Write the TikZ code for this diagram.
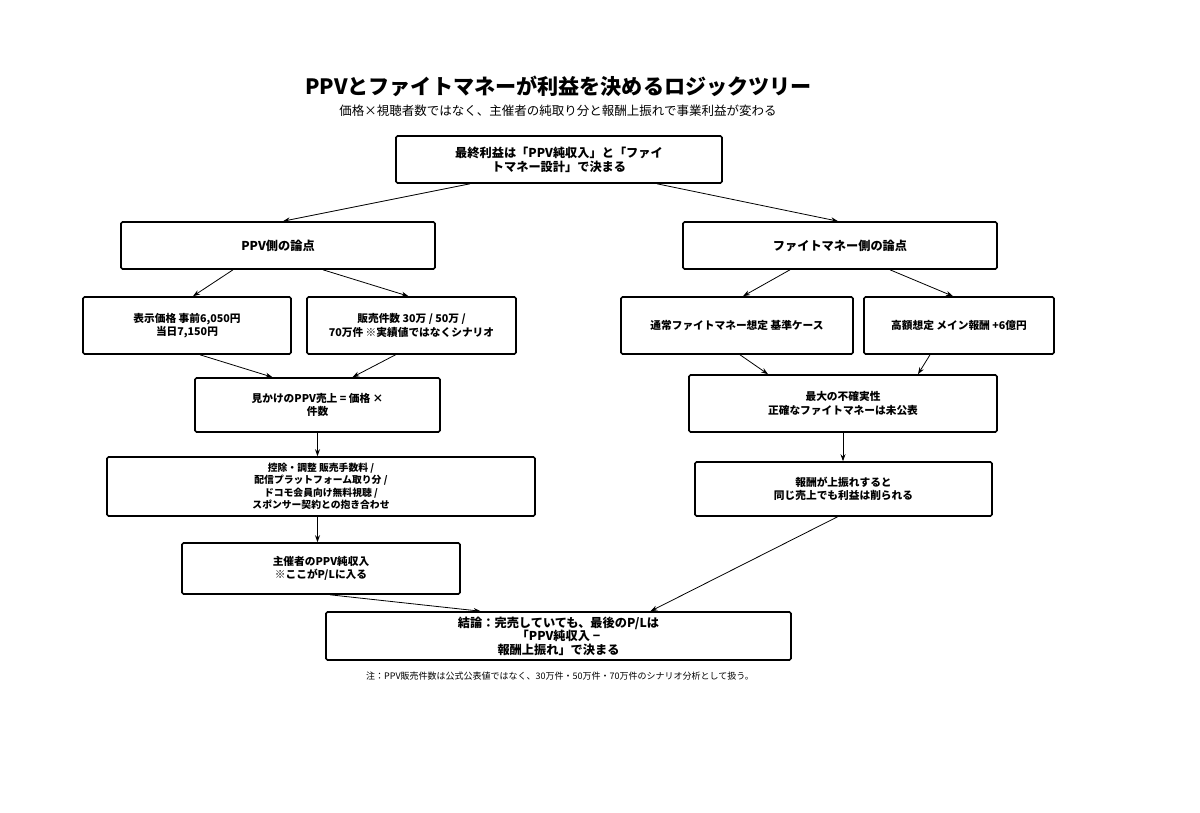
\documentclass[tikz,border=0pt]{standalone}
\usepackage{fontspec}
\setmainfont{Noto Sans CJK JP}
\usetikzlibrary{calc,arrows.meta}
\begin{document}
\begin{tikzpicture}[x=1pt,y=-1pt,
  box/.style={draw=black,line width=1.6pt,rounded corners=1.5pt,fill=white,align=center,
    font=\fontsize{10.7}{13.5}\selectfont\bfseries,inner sep=2pt},
  bigbox/.style={box,font=\fontsize{12.2}{14}\selectfont\bfseries},
  arr/.style={-{Stealth[length=7pt,width=5pt]},line width=0.8pt,black}]
\path[use as bounding box,fill=white] (0,0) rectangle (1200,813);
\node[font=\fontsize{21.1}{25}\selectfont\bfseries] (title) at (558.5,86) {PPVとファイトマネーが利益を決めるロジックツリー};
\node[font=\fontsize{12.5}{15}\selectfont] (sub) at (558,111) {価格×視聴者数ではなく、主催者の純取り分と報酬上振れで事業利益が変わる};

\node[bigbox,minimum width=326pt,minimum height=47pt] (top) at (559,159.5) {最終利益は「PPV純収入」と「ファイ\\トマネー設計」で決まる};
\node[bigbox,minimum width=314pt,minimum height=47pt] (ppv) at (278,245.5) {PPV側の論点};
\node[bigbox,minimum width=314pt,minimum height=47pt] (fm) at (840,245.5) {ファイトマネー側の論点};
\node[box,minimum width=208pt,minimum height=57pt] (price) at (187,325.5) {表示価格 事前6,050円\\当日7,150円};
\node[box,minimum width=209pt,minimum height=57pt] (sales) at (411.5,325.5) {販売件数 30万 / 50万 /\\70万件 ※実績値ではなくシナリオ};
\node[box,minimum width=232pt,minimum height=57pt] (normal) at (737,325.5) {通常ファイトマネー想定 基準ケース};
\node[box,minimum width=190pt,minimum height=57pt] (high) at (959,325.5) {高額想定 メイン報酬 +6億円};
\node[box,minimum width=245pt,minimum height=54pt] (app) at (317.5,405) {見かけのPPV売上 = 価格 ×\\件数};
\node[box,minimum width=308pt,minimum height=57pt] (unc) at (843,403.5) {最大の不確実性\\正確なファイトマネーは未公表};
\node[box,minimum width=428pt,minimum height=59pt,font=\fontsize{9.8}{12.5}\selectfont\bfseries] (ded) at (321,486.5) {控除・調整 販売手数料 /\\配信プラットフォーム取り分 /\\ドコモ会員向け無料視聴 /\\スポンサー契約との抱き合わせ};
\node[box,minimum width=297pt,minimum height=54pt] (up) at (843.5,489) {報酬が上振れすると\\同じ売上でも利益は削られる};
\node[box,minimum width=278pt,minimum height=51pt] (net) at (321,568.5) {主催者のPPV純収入\\※ここがP/Lに入る};
\node[bigbox,minimum width=465pt,minimum height=48pt,font=\fontsize{12.2}{13.6}\selectfont\bfseries] (con) at (558.5,636) {結論：完売していても、最後のP/Lは\\「PPV純収入 −\\報酬上振れ」で決まる};
\node[font=\fontsize{9}{11}\selectfont] (note) at (560,676) {注：PPV販売件数は公式公表値ではなく、30万件・50万件・70万件のシナリオ分析として扱う。};

\draw[arr] ($(top.south)+(-89,0)$) -- ($(ppv.north)+(5,0)$);
\draw[arr] ($(top.south)+(98,0)$) -- ($(fm.north)+(-2,0)$);
\draw[arr] ($(ppv.south)+(-45,0)$) -- ($(price.north)+(6,0)$);
\draw[arr] ($(ppv.south)+(45,0)$) -- ($(sales.north)+(-3,0)$);
\draw[arr] ($(fm.south)+(-50,0)$) -- ($(normal.north)+(6,0)$);
\draw[arr] ($(fm.south)+(50,0)$) -- ($(high.north)+(-6,0)$);
\draw[arr] ($(price.south)+(13,0)$) -- ($(app.north)+(-45,0)$);
\draw[arr] ($(sales.south)+(-16,0)$) -- ($(app.north)+(35,0)$);
\draw[arr] ($(normal.south)+(3,0)$) -- ($(unc.north)+(-75,0)$);
\draw[arr] ($(high.south)+(-29,0)$) -- ($(unc.north)+(75,0)$);
\draw[arr] (app.south) -- (app.south |- ded.north);
\draw[arr] (unc.south) -- (unc.south |- up.north);
\draw[arr] (app.south |- ded.south) -- (app.south |- net.north);
\draw[arr] ($(net.south)+(9,0)$) -- ($(con.north)+(-78,0)$);
\draw[arr] ($(up.south)+(-6,0)$) -- ($(con.north)+(92,0)$);
\end{tikzpicture}
\end{document}
